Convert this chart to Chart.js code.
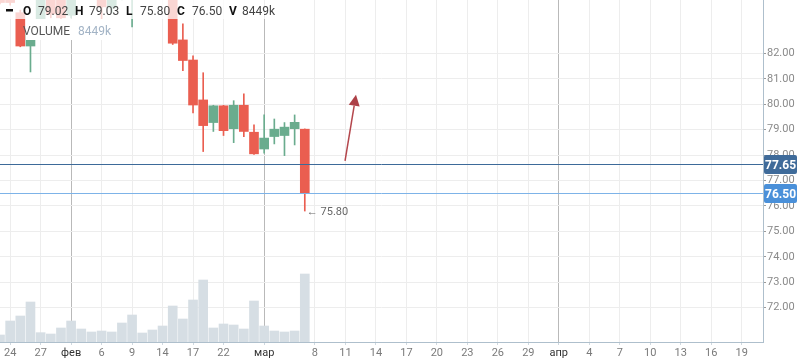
<!DOCTYPE html>
<html>
<head>
<meta charset="utf-8">
<script src="https://cdn.jsdelivr.net/npm/chart.js@4.4.1/dist/chart.umd.min.js"></script>
<style>
  html, body { margin: 0; padding: 0; background: #fff; }
</style>
</head>
<body>
<canvas id="chart" width="798" height="363"></canvas>
<script>
/* ================= DATA ================= */
// one entry per trading day, index 0 = 23 Jan
const opens  = [84.80, 84.60, 83.60, 82.29, 82.95, 84.40, 84.30, 83.50, 84.30, 84.60,
                84.80, 83.79, 84.30, 84.30, 85.00, 84.50, 85.20, 84.30, 82.53, 81.74,
                80.17, 79.28, 79.94, 79.04, 79.96, 78.90, 78.24, 78.73, 78.77, 79.04, 79.02];
const highs  = [85.00, 84.90, 83.70, 83.10, 84.60, 84.60, 84.50, 84.60, 84.90, 85.10,
                85.00, 84.50, 84.80, 85.00, 85.30, 85.50, 85.40, 84.50, 83.16, 81.90,
                81.24, 79.96, 79.96, 80.14, 80.41, 79.19, 79.58, 79.42, 79.28, 79.58, 79.03];
const lows   = [83.95, 83.90, 82.26, 81.27, 82.80, 83.40, 83.20, 83.40, 84.20, 84.40,
                83.20, 83.60, 84.10, 83.04, 84.50, 84.30, 84.20, 82.35, 81.32, 79.66,
                78.14, 78.93, 78.77, 78.49, 78.73, 78.03, 78.08, 78.44, 77.98, 78.40, 75.80];
const closes = [84.00, 84.00, 82.29, 82.90, 84.40, 83.55, 83.40, 84.40, 84.70, 84.90,
                83.83, 84.30, 84.60, 84.70, 84.70, 85.20, 84.40, 82.40, 81.72, 79.97,
                79.16, 79.94, 78.96, 79.96, 78.93, 78.05, 78.67, 79.02, 79.10, 79.29, 76.50];
// volume in thousands
const volumes = [870, 2609, 3230, 4970, 1160, 994, 1740, 2609, 1615, 1243,
                 1367, 1243, 2361, 3355, 1118, 1491, 1988, 4473, 2858, 5219,
                 7704, 1740, 2237, 2112, 1615, 5094, 1988, 1367, 1243, 1367, 8449];

// x axis: bar index -> label (after 8 Mar the axis runs in calendar days)
const tickIndex  = [1, 4, 7, 10, 13, 16, 19, 22, 26, 31, 34, 37, 40, 43, 46, 49, 52, 55, 58, 61, 64, 67, 70, 73];
const tickLabels = ["24", "27", "фев", "6", "9", "14", "17", "22", "мар", "8", "11", "14", "17", "20", "23", "26", "29", "апр", "4", "7", "10", "13", "16", "19"];
const monthLabels = ["фев", "мар", "апр"];

const priceTicks = [72, 73, 74, 75, 76, 77, 78, 79, 80, 81, 82];
const refPrice = 77.65;

// drawn arrow, in (bar index, price)
const arrowFrom = [33.96, 77.77];
const arrowTo   = [35.04, 80.37];

const UP = "#6aac8e", DOWN = "#ea5e50";
const last = closes.length - 1;
const FONT = "Roboto, 'Liberation Sans', sans-serif";

/* ================= DATASETS ================= */
const idx = closes.map((c, i) => i);
const candleColors = idx.map(i => closes[i] >= opens[i] ? UP : DOWN);

const bodies = idx.map(i => ({ x: i, y: [Math.min(opens[i], closes[i]), Math.max(opens[i], closes[i])] }));
const wicks  = idx.map(i => ({ x: i, y: [lows[i], highs[i]] }));
const vols   = idx.map(i => ({ x: i, y: volumes[i] }));

/* ================= OVERLAY ================= */
const overlay = {
  id: "overlay",
  afterDatasetsDraw(chart) {
    const { ctx, chartArea: a, scales: { x, y } } = chart;
    ctx.save();

    // price lines
    const hline = (p, color) => {
      const py = Math.round(y.getPixelForValue(p)) + 0.5;
      ctx.strokeStyle = color;
      ctx.lineWidth = 1;
      ctx.beginPath();
      ctx.moveTo(a.left, py);
      ctx.lineTo(a.right, py);
      ctx.stroke();
    };
    hline(refPrice, "#3d6a99");
    hline(closes[last], "#7db3e8");

    // low label
    ctx.fillStyle = "#666";
    ctx.font = "11px " + FONT;
    ctx.textBaseline = "middle";
    ctx.textAlign = "left";
    ctx.fillText("← " + lows[last].toFixed(2), x.getPixelForValue(last) + 2, y.getPixelForValue(lows[last]) + 1);

    // arrow
    const x0 = x.getPixelForValue(arrowFrom[0]), y0 = y.getPixelForValue(arrowFrom[1]);
    const x1 = x.getPixelForValue(arrowTo[0]),   y1 = y.getPixelForValue(arrowTo[1]);
    const len = Math.hypot(x1 - x0, y1 - y0);
    const ux = (x1 - x0) / len, uy = (y1 - y0) / len;
    const bx = x1 - ux * 11, by = y1 - uy * 11;
    ctx.strokeStyle = "#b4464c";
    ctx.lineWidth = 1.5;
    ctx.beginPath();
    ctx.moveTo(x0, y0);
    ctx.lineTo(bx, by);
    ctx.stroke();
    ctx.fillStyle = "#ad4047";
    ctx.beginPath();
    ctx.moveTo(x1, y1);
    ctx.lineTo(bx - uy * 5.5, by + ux * 5.5);
    ctx.lineTo(bx + uy * 5.5, by - ux * 5.5);
    ctx.closePath();
    ctx.fill();

    // legend
    ctx.fillStyle = "rgba(255,255,255,0.75)";
    ctx.fillRect(0, 0, 277, 19);
    ctx.fillStyle = "#fff";
    ctx.fillRect(26, 19, 87, 21);

    ctx.fillStyle = "#111";
    ctx.fillRect(6, 9, 7, 2.5);
    const vals = [opens[last], highs[last], lows[last], closes[last]].map(v => v.toFixed(2));
    vals.push(volumes[last] + "k");
    const names = ["O", "H", "L", "C", "V"];
    const nameX = [23, 75, 126, 177, 229];
    const valX  = [38, 89, 140, 192, 242];
    ctx.textBaseline = "alphabetic";
    names.forEach((n, i) => {
      ctx.font = "bold 12px " + FONT;
      ctx.fillStyle = "#111";
      ctx.fillText(n, nameX[i], 15);
      ctx.font = "12px " + FONT;
      ctx.fillStyle = "#444";
      ctx.fillText(vals[i], valX[i], 15);
    });
    ctx.font = "12px " + FONT;
    ctx.fillStyle = "#555";
    ctx.fillText("VOLUME", 23, 35);
    ctx.fillStyle = "#a3b4c6";
    ctx.fillText(volumes[last] + "k", 78, 35);

    ctx.restore();
  },
  afterDraw(chart) {
    const { ctx, scales: { y } } = chart;
    ctx.save();
    const box = (p, color) => {
      const py = Math.round(y.getPixelForValue(p)) + 0.5;
      ctx.fillStyle = color;
      ctx.beginPath();
      ctx.roundRect(764, py - 9.5, 33, 19, 2);
      ctx.fill();
      ctx.fillStyle = "#fff";
      ctx.font = "bold 12px " + FONT;
      ctx.textAlign = "center";
      ctx.textBaseline = "middle";
      ctx.fillText(p.toFixed(2), 780.5, py + 1);
    };
    box(refPrice, "#3f6b9a");
    box(closes[last], "#4a90d9");
    ctx.restore();
  }
};

/* ================= CHART ================= */
new Chart(document.getElementById("chart"), {
  type: "bar",
  data: {
    datasets: [
      { data: bodies, backgroundColor: candleColors, barThickness: 9, grouped: false, yAxisID: "y" },
      { data: wicks, backgroundColor: candleColors, barThickness: 1, grouped: false, yAxisID: "y" },
      { data: vols, backgroundColor: "#d6dee4", barThickness: 9, grouped: false, yAxisID: "yv" }
    ]
  },
  options: {
    responsive: false,
    animation: false,
    layout: { padding: 0 },
    plugins: { legend: { display: false }, tooltip: { enabled: false } },
    scales: {
      x: {
        type: "linear",
        min: 0,
        max: 75.1,
        offset: false,
        afterBuildTicks: s => { s.ticks = tickIndex.map(v => ({ value: v })); },
        afterFit: s => { s.height = 21; s.paddingLeft = 0; s.paddingRight = 0; },
        ticks: {
          autoSkip: false,
          maxRotation: 0,
          padding: 2,
          font: { size: 11, family: FONT },
          color: c => monthLabels.includes(tickLabels[c.index]) ? "#333" : "#7a7a7a",
          callback: (v, i) => tickLabels[i]
        },
        grid: {
          offset: false,
          color: c => c.tick && monthLabels.includes(tickLabels[c.index]) ? "#b9b9b9" : "#ededed",
          tickColor: "#cfd8df",
          tickLength: 3
        },
        border: { color: "#aebfcc" }
      },
      y: {
        position: "right",
        min: 70.65,
        max: 84.1,
        afterBuildTicks: s => { s.ticks = priceTicks.map(v => ({ value: v })); },
        afterFit: s => { s.width = 35; s.paddingTop = 0; s.paddingBottom = 0; },
        ticks: {
          padding: 1,
          font: { size: 11, family: FONT },
          color: "#8a8a8a",
          callback: v => v.toFixed(2)
        },
        grid: { color: "#ededed", tickColor: "#9a9a9a", tickLength: 3 },
        border: { color: "#aebfcc" }
      },
      yv: {
        display: false,
        min: 0,
        max: 42494
      }
    }
  },
  plugins: [overlay]
});
</script>
</body>
</html>
